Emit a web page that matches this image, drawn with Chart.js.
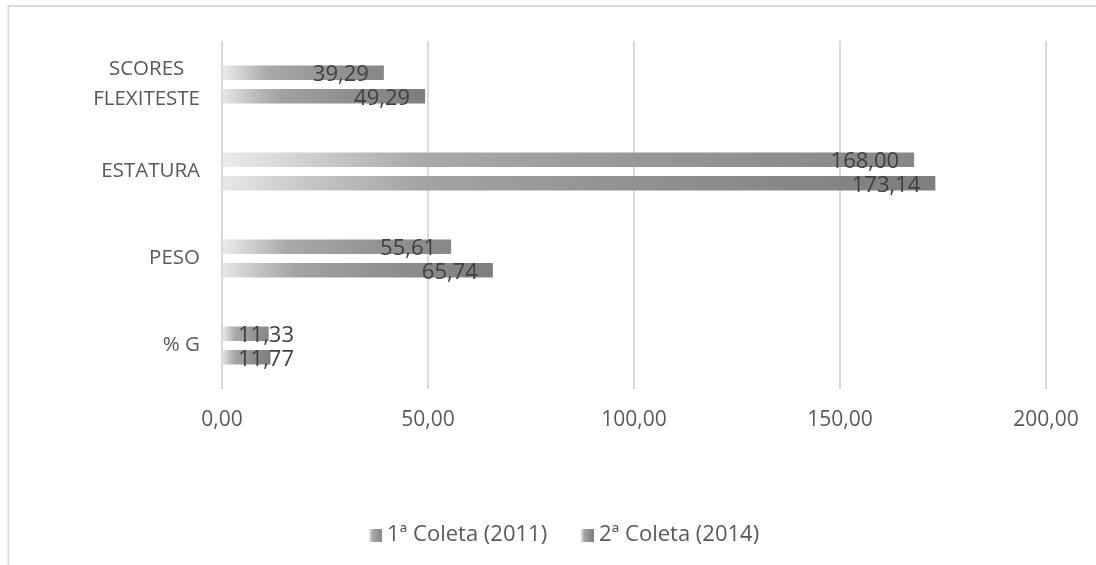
<!DOCTYPE html>
<html>
<head>
<meta charset="utf-8">
<script src="https://cdn.jsdelivr.net/npm/chart.js@4"></script>
<style>
html,body{margin:0;padding:0;background:#fff;}
#wrap{width:1096px;height:565px;position:relative;}
</style>
</head>
<body>
<div id="wrap"><canvas id="c" width="1096" height="565"></canvas></div>
<script>
const categories = [["SCORES", "FLEXITESTE"], "ESTATURA", "PESO", "% G"];
const series1Label = "1ª Coleta (2011)";
const series2Label = "2ª Coleta (2014)";
const series1 = [39.29, 168.00, 55.61, 11.33];
const series2 = [49.29, 173.14, 65.74, 11.77];
const xTicks = [0, 50, 100, 150, 200];

const fmt = v => v.toFixed(2).replace('.', ',');

const stops1 = [[0, '#ececec'], [0.12, '#d0d0d0'], [0.28, '#aaaaaa'], [0.6, '#979797'], [1, '#878787']];
const stops2 = [[0, '#e8e8e8'], [0.12, '#c6c6c6'], [0.28, '#a3a3a3'], [0.6, '#909090'], [1, '#7e7e7e']];

function makeGrad(ctx, x0, x1, stops) {
  const g = ctx.createLinearGradient(x0, 0, x1, 0);
  stops.forEach(s => g.addColorStop(s[0], s[1]));
  return g;
}
function barColor(stops) {
  return function(c) {
    const chart = c.chart;
    if (!chart.chartArea || c.raw == null) return stops[stops.length - 1][1];
    const xs = chart.scales.x;
    const x0 = xs.getPixelForValue(0), x1 = xs.getPixelForValue(c.raw);
    return makeGrad(chart.ctx, x0, Math.max(x1, x0 + 1), stops);
  };
}

const frame = {
  id: 'frame',
  beforeDraw(chart) {
    const ctx = chart.ctx;
    ctx.save();
    ctx.strokeStyle = '#d9d9d9';
    ctx.lineWidth = 2;
    ctx.beginPath();
    ctx.moveTo(8.5, 565);
    ctx.lineTo(8.5, 6);
    ctx.lineTo(1096, 6);
    ctx.stroke();
    ctx.restore();
  }
};

const catLabels = {
  id: 'catlabels',
  afterDraw(chart) {
    const ctx = chart.ctx;
    const ys = chart.scales.y;
    ctx.save();
    ctx.font = '20.5px "Open Sans"';
    ctx.fillStyle = '#595959';
    ctx.textBaseline = 'middle';
    ctx.textAlign = 'center';
    const right = 200, lh = 30;
    chart.data.labels.forEach((lab, i) => {
      const lines = Array.isArray(lab) ? lab : [lab];
      const w = Math.max(...lines.map(l => ctx.measureText(l).width));
      const cx = right - w / 2;
      const cy = ys.getPixelForValue(i);
      const y0 = cy - (lines.length - 1) * lh / 2;
      lines.forEach((l, k) => ctx.fillText(l, cx, y0 + k * lh));
    });
    ctx.restore();
  }
};

const labelsPlugin = {
  id: 'vlabels',
  afterDatasetsDraw(chart) {
    const ctx = chart.ctx;
    ctx.save();
    ctx.font = '22px "Open Sans"';
    ctx.fillStyle = '#404040';
    ctx.textBaseline = 'middle';
    ctx.textAlign = 'left';
    chart.data.datasets.forEach((ds, di) => {
      const meta = chart.getDatasetMeta(di);
      meta.data.forEach((bar, i) => {
        const t = fmt(ds.data[i]);
        const w = ctx.measureText(t).width;
        let x = bar.x - 15 - w;
        if (x < bar.base + 15) x = bar.base + 15;
        ctx.fillText(t, x, bar.y + 2);
      });
    });
    ctx.restore();
  }
};

const legendPlugin = {
  id: 'mylegend',
  afterDraw(chart) {
    const ctx = chart.ctx;
    ctx.save();
    ctx.font = '22px "Open Sans"';
    ctx.textBaseline = 'middle';
    const items = [
      {x: 369, label: chart.data.datasets[0].label, stops: stops1},
      {x: 581, label: chart.data.datasets[1].label, stops: stops2}
    ];
    items.forEach(it => {
      ctx.fillStyle = makeGrad(ctx, it.x, it.x + 13, it.stops);
      ctx.fillRect(it.x, 529, 13, 13);
      ctx.fillStyle = '#595959';
      ctx.fillText(it.label, it.x + 18, 535);
    });
    ctx.restore();
  }
};

new Chart(document.getElementById('c'), {
  type: 'bar',
  data: {
    labels: categories,
    datasets: [
      {label: series1Label, data: series1, backgroundColor: barColor(stops1),
       barPercentage: 0.62, categoryPercentage: 0.54},
      {label: series2Label, data: series2, backgroundColor: barColor(stops2),
       barPercentage: 0.62, categoryPercentage: 0.54}
    ]
  },
  options: {
    indexAxis: 'y',
    responsive: false,
    animation: false,
    devicePixelRatio: 1,
    layout: {padding: {top: 41, left: 0, right: 50, bottom: 0}},
    plugins: {legend: {display: false}, tooltip: {enabled: false}},
    scales: {
      x: {
        min: 0, max: 200,
        afterBuildTicks(s) { s.ticks = xTicks.map(v => ({value: v})); },
        afterFit(s) { s.paddingLeft = 0; s.paddingRight = 0; s.height = 565 - 389; },
        grid: {color: '#d9d9d9', lineWidth: 2, drawTicks: false},
        border: {display: false},
        ticks: {
          padding: 18,
          color: '#595959',
          font: {family: 'Open Sans', size: 21},
          callback: v => fmt(v),
          maxRotation: 0
        }
      },
      y: {
        afterFit(s) { s.width = 222; },
        grid: {display: false, drawTicks: false},
        border: {display: false},
        ticks: {display: false}
      }
    }
  },
  plugins: [frame, catLabels, labelsPlugin, legendPlugin]
});
</script>
</body>
</html>
